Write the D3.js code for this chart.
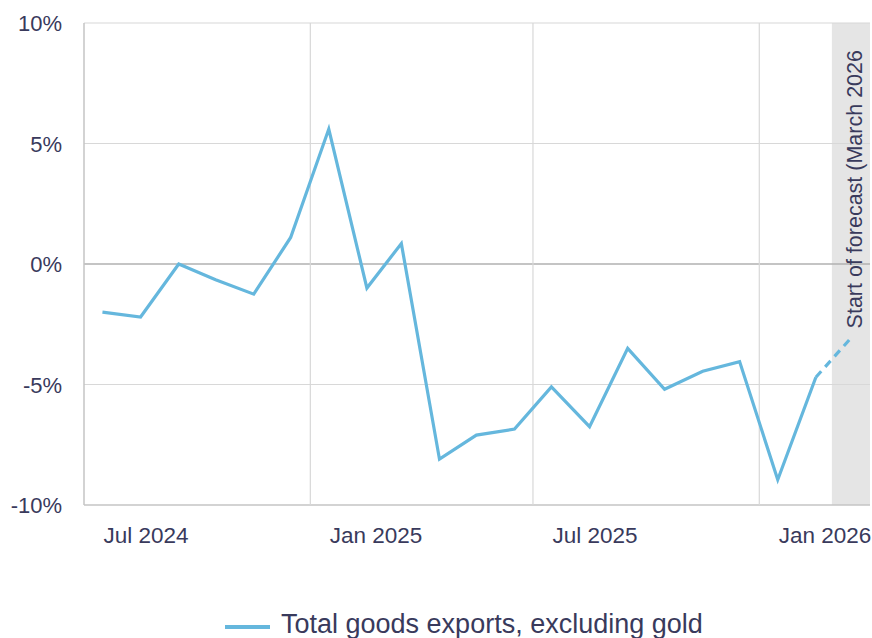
<!DOCTYPE html>
<html>
<head>
<meta charset="utf-8">
<script src="https://cdn.jsdelivr.net/npm/d3@7"></script>
<style>
	body { margin: 0; background: #fff; }
	text { font-family: "Liberation Sans", Arial, sans-serif; fill: #393a5c; }
</style>
</head>
<body>
<svg id="chart"></svg>
<script>
// monthly values, % change
var months = ["2024-07","2024-08","2024-09","2024-10","2024-11","2024-12",
	"2025-01","2025-02","2025-03","2025-04","2025-05","2025-06",
	"2025-07","2025-08","2025-09","2025-10","2025-11","2025-12",
	"2026-01","2026-02"];
var values = [-2.0, -2.2, 0.0, -0.65, -1.25, 1.1,
	5.6, -1.0, 0.85, -8.1, -7.1, -6.85,
	-5.1, -6.75, -3.5, -5.2, -4.45, -4.05,
	-8.95, -4.7];
var forecastMonths = ["2026-02", "2026-03"];
var forecastValues = [-4.7, -3.1];
var yTicks = [10, 5, 0, -5, -10];
var xTickMonths = ["2024-07", "2025-01", "2025-07", "2026-01"];
var xTickLabels = ["Jul 2024", "Jan 2025", "Jul 2025", "Jan 2026"];
var gridMonths = ["2025-01", "2025-07", "2026-01"];
var seriesName = "Total goods exports, excluding gold";
var forecastLabel = "Start of forecast (March 2026";

var unit = {width: 872, height: 638};
var m = {left: 84, right: 870, top: 23, bottom: 505};
var lineColor = '#65b7dd';

var svg = d3.select('#chart')
	.attr('width', unit.width)
	.attr('height', unit.height);

var parse = d3.timeParse('%Y-%m');
function mid(s){ var d = parse(s); return d3.timeDay.offset(d, 15); }

var x = d3.scaleTime()
	.domain([parse('2024-07'), parse('2026-04')])
	.range([m.left, m.right]);
var y = d3.scaleLinear()
	.domain([-10, 10])
	.range([m.bottom, m.top]);

// forecast shading
svg.append('rect')
	.attr('x', x(parse('2026-03')))
	.attr('y', m.top)
	.attr('width', m.right - x(parse('2026-03')))
	.attr('height', m.bottom - m.top)
	.attr('fill', '#e5e5e5');

// horizontal grid
svg.append('g').selectAll('line')
	.data(yTicks)
	.enter().append('line')
	.attr('x1', m.left).attr('x2', m.right)
	.attr('y1', d => y(d)).attr('y2', d => y(d))
	.attr('stroke', d => d == 0 ? '#b0b0b0' : (d == -10 ? '#c4c4c4' : '#d8d8d8'))
	.attr('stroke-width', d => d == 0 || d == -10 ? 1.5 : 1.2);

// vertical grid
svg.append('g').selectAll('line')
	.data(gridMonths)
	.enter().append('line')
	.attr('x1', d => x(parse(d))).attr('x2', d => x(parse(d)))
	.attr('y1', m.top).attr('y2', m.bottom)
	.attr('stroke', '#d8d8d8')
	.attr('stroke-width', 1.2);

svg.append('line')
	.attr('x1', m.left).attr('x2', m.left)
	.attr('y1', m.top).attr('y2', m.bottom)
	.attr('stroke', '#c4c4c4')
	.attr('stroke-width', 1.5);

// y labels
svg.append('g').selectAll('text')
	.data(yTicks)
	.enter().append('text')
	.attr('x', 62)
	.attr('y', d => y(d))
	.attr('dy', '0.38em')
	.attr('text-anchor', 'end')
	.style('font-size', '22px')
	.text(d => d + '%');

// x labels
svg.append('g').selectAll('text')
	.data(xTickMonths)
	.enter().append('text')
	.attr('x', d => x(mid(d)) + 1)
	.attr('y', 543)
	.attr('text-anchor', 'start')
	.style('font-size', '22.5px')
	.text((d, i) => xTickLabels[i]);

// forecast label
svg.append('text')
	.attr('transform', 'translate(862,50) rotate(-90)')
	.attr('text-anchor', 'end')
	.style('font-size', '21.5px')
	.text(forecastLabel);

var line = d3.line()
	.x(d => x(mid(d[0])))
	.y(d => y(d[1]));

svg.append('path')
	.datum(d3.zip(months, values))
	.attr('d', line)
	.attr('fill', 'none')
	.attr('stroke', lineColor)
	.attr('stroke-width', 3.2)
	.attr('stroke-linejoin', 'miter');

svg.append('path')
	.datum(d3.zip(forecastMonths, forecastValues))
	.attr('d', line)
	.attr('fill', 'none')
	.attr('stroke', lineColor)
	.attr('stroke-width', 3.2)
	.attr('stroke-dasharray', '8,6');

// legend
svg.append('line')
	.attr('x1', 225).attr('x2', 270)
	.attr('y1', 627).attr('y2', 627)
	.attr('stroke', lineColor)
	.attr('stroke-width', 4);
svg.append('text')
	.attr('x', 281)
	.attr('y', 633)
	.style('font-size', '27px')
	.text(seriesName);
</script>
</body>
</html>
